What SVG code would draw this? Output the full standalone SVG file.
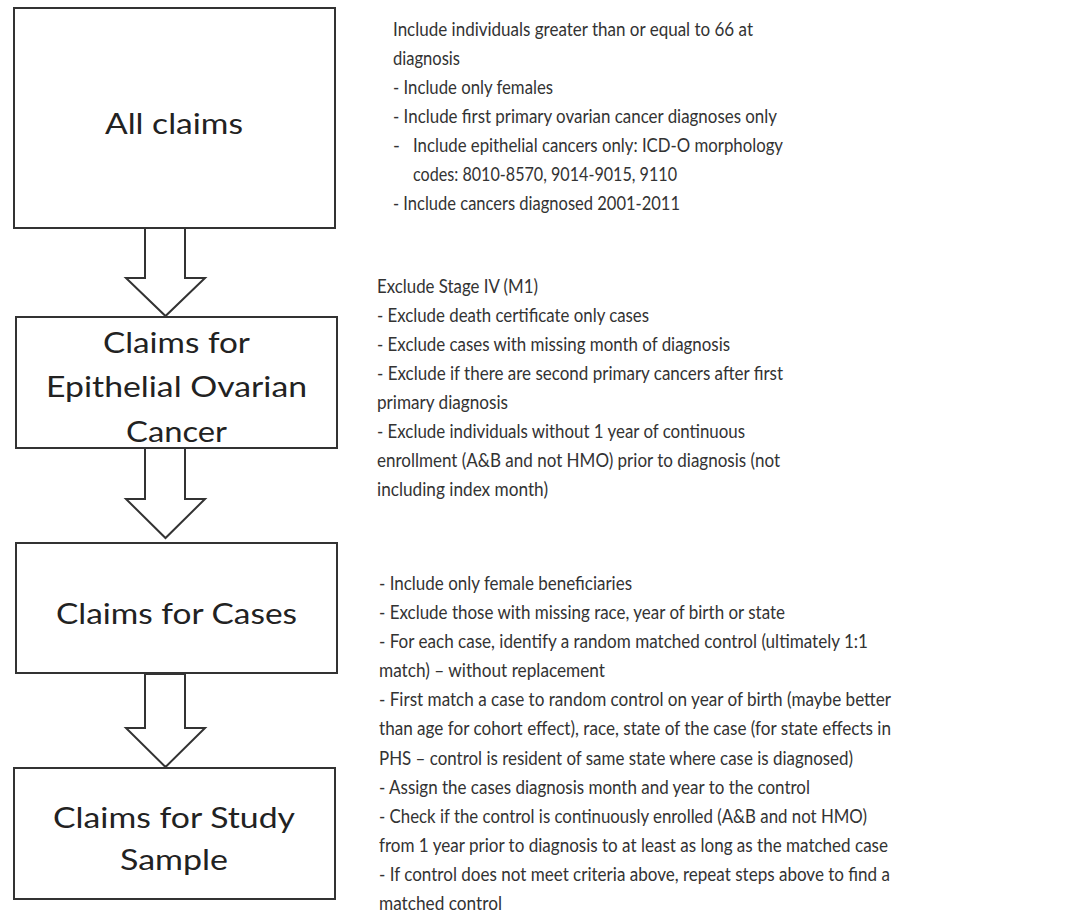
<svg xmlns="http://www.w3.org/2000/svg" width="1074" height="917" viewBox="0 0 1074 917">
<style>
.box{fill:#fff;stroke:#333;stroke-width:2}
.arr{fill:#fff;stroke:#333;stroke-width:2;stroke-linejoin:miter}
.bt{font-family:Lato,"Liberation Sans",sans-serif;font-size:28px;fill:#222;text-anchor:middle}
.rt{font-family:Lato,"Liberation Sans",sans-serif;font-size:18.5px;fill:#333}
</style>
<rect width="1074" height="917" fill="#fff"/>
<g id="connectors">
<polygon class="arr" points="145,228 185,228 185,278 205,278 165.5,316 126,278 145,278"/>
<polygon class="arr" points="145,448 185,448 185,499 205,499 165.5,538 126,499 145,499"/>
<polygon class="arr" points="145,674 185,674 185,728 205,728 165.5,767 126,728 145,728"/>
</g>
<g id="node-all-claims">
<rect class="box" x="14" y="8" width="321" height="220"/>
<text class="bt" x="174" y="134" textLength="138" lengthAdjust="spacingAndGlyphs">All claims</text>
</g>
<g id="node-eoc">
<rect class="box" x="16" y="317" width="321" height="131"/>
<text class="bt" x="176.5" y="353" textLength="147" lengthAdjust="spacingAndGlyphs">Claims for</text>
<text class="bt" x="176.5" y="397" textLength="261" lengthAdjust="spacingAndGlyphs">Epithelial Ovarian</text>
<text class="bt" x="176.5" y="442" textLength="101" lengthAdjust="spacingAndGlyphs">Cancer</text>
</g>
<g id="node-cases">
<rect class="box" x="16" y="543" width="321" height="130"/>
<text class="bt" x="176.5" y="624" textLength="241" lengthAdjust="spacingAndGlyphs">Claims for Cases</text>
</g>
<g id="node-study">
<rect class="box" x="14" y="768" width="321" height="131"/>
<text class="bt" x="174" y="828" textLength="242" lengthAdjust="spacingAndGlyphs">Claims for Study</text>
<text class="bt" x="174" y="870" textLength="108" lengthAdjust="spacingAndGlyphs">Sample</text>
</g>
<g id="criteria-1">
<text class="rt" x="393" y="36" textLength="360" lengthAdjust="spacingAndGlyphs">Include individuals greater than or equal to 66 at</text>
<text class="rt" x="393" y="65" textLength="67" lengthAdjust="spacingAndGlyphs">diagnosis</text>
<text class="rt" x="393" y="94" textLength="160" lengthAdjust="spacingAndGlyphs">- Include only females</text>
<text class="rt" x="393" y="123" textLength="384" lengthAdjust="spacingAndGlyphs">- Include first primary ovarian cancer diagnoses only</text>
<text class="rt" x="393" y="152">-</text>
<text class="rt" x="413" y="152" textLength="370" lengthAdjust="spacingAndGlyphs">Include epithelial cancers only: ICD-O morphology</text>
<text class="rt" x="413" y="181" textLength="264" lengthAdjust="spacingAndGlyphs">codes: 8010-8570, 9014-9015, 9110</text>
<text class="rt" x="393" y="210" textLength="287" lengthAdjust="spacingAndGlyphs">- Include cancers diagnosed 2001-2011</text>
</g>
<g id="criteria-2">
<text class="rt" x="377" y="293" textLength="161" lengthAdjust="spacingAndGlyphs">Exclude Stage IV (M1)</text>
<text class="rt" x="377" y="322" textLength="272" lengthAdjust="spacingAndGlyphs">- Exclude death certificate only cases</text>
<text class="rt" x="377" y="351" textLength="353" lengthAdjust="spacingAndGlyphs">- Exclude cases with missing month of diagnosis</text>
<text class="rt" x="377" y="380" textLength="406" lengthAdjust="spacingAndGlyphs">- Exclude if there are second primary cancers after first</text>
<text class="rt" x="377" y="409" textLength="131" lengthAdjust="spacingAndGlyphs">primary diagnosis</text>
<text class="rt" x="377" y="438" textLength="368" lengthAdjust="spacingAndGlyphs">- Exclude individuals without 1 year of continuous</text>
<text class="rt" x="377" y="467" textLength="403" lengthAdjust="spacingAndGlyphs">enrollment (A&amp;B and not HMO) prior to diagnosis (not</text>
<text class="rt" x="377" y="496" textLength="171" lengthAdjust="spacingAndGlyphs">including index month)</text>
</g>
<g id="criteria-3">
<text class="rt" x="379" y="590" textLength="253" lengthAdjust="spacingAndGlyphs">- Include only female beneficiaries</text>
<text class="rt" x="379" y="619" textLength="406" lengthAdjust="spacingAndGlyphs">- Exclude those with missing race, year of birth or state</text>
<text class="rt" x="379" y="648" textLength="489" lengthAdjust="spacingAndGlyphs">- For each case, identify a random matched control (ultimately 1:1</text>
<text class="rt" x="379" y="677" textLength="226" lengthAdjust="spacingAndGlyphs">match) – without replacement</text>
<text class="rt" x="379" y="706" textLength="512" lengthAdjust="spacingAndGlyphs">- First match a case to random control on year of birth (maybe better</text>
<text class="rt" x="379" y="735" textLength="512" lengthAdjust="spacingAndGlyphs">than age for cohort effect), race, state of the case (for state effects in</text>
<text class="rt" x="379" y="765" textLength="474" lengthAdjust="spacingAndGlyphs">PHS – control is resident of same state where case is diagnosed)</text>
<text class="rt" x="379" y="794" textLength="431" lengthAdjust="spacingAndGlyphs">- Assign the cases diagnosis month and year to the control</text>
<text class="rt" x="379" y="823" textLength="488" lengthAdjust="spacingAndGlyphs">- Check if the control is continuously enrolled (A&amp;B and not HMO)</text>
<text class="rt" x="379" y="852" textLength="509" lengthAdjust="spacingAndGlyphs">from 1 year prior to diagnosis to at least as long as the matched case</text>
<text class="rt" x="379" y="881" textLength="511" lengthAdjust="spacingAndGlyphs">- If control does not meet criteria above, repeat steps above to find a</text>
<text class="rt" x="379" y="910" textLength="123" lengthAdjust="spacingAndGlyphs">matched control</text>
</g>
</svg>
